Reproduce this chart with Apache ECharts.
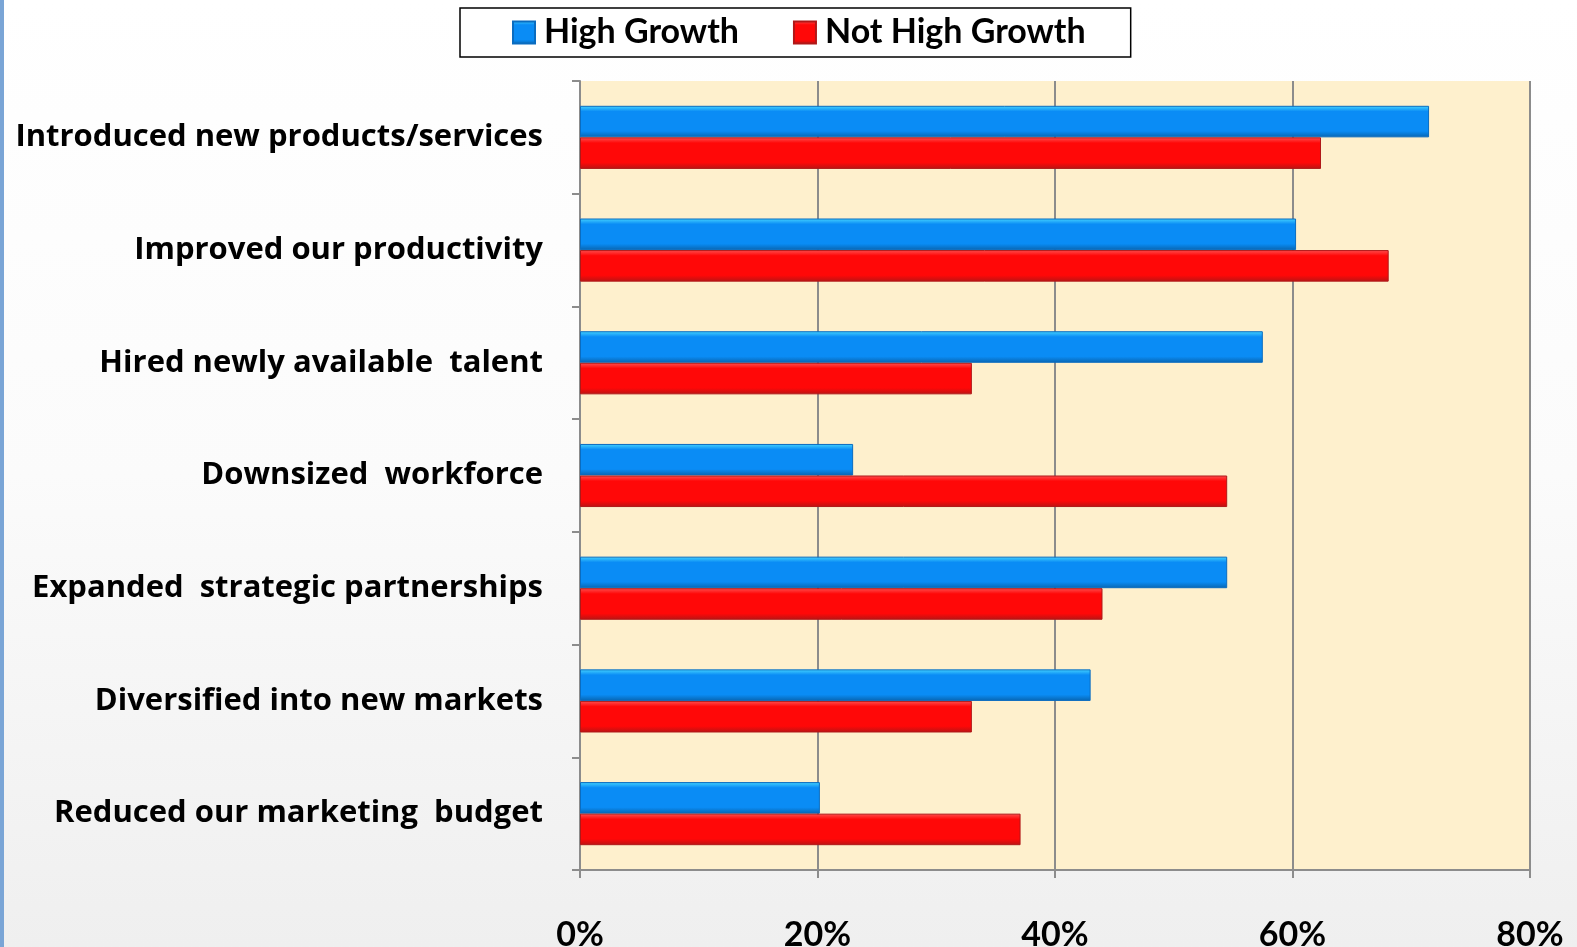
<!DOCTYPE html>
<html>
<head>
<meta charset="utf-8">
<script src="https://cdn.jsdelivr.net/npm/echarts@6/dist/echarts.min.js"></script>
<style>
  html, body { margin: 0; padding: 0; }
  body {
    width: 1577px;
    height: 947px;
    background: linear-gradient(to bottom, #ffffff 0%, #fbfbfb 50%, #efefef 100%);
    position: relative;
  }
  .edge {
    position: absolute; left: 0; top: 0; width: 4px; height: 947px;
    background: #7aa5d6;
  }
  #chart { position: absolute; left: 0; top: 0; width: 1577px; height: 947px; }
</style>
</head>
<body>
<div class="edge"></div>
<div id="chart"></div>
<script>
// categories top to bottom
const categories = [
  'Introduced new products/services',
  'Improved our productivity',
  'Hired newly available  talent',
  'Downsized  workforce',
  'Expanded  strategic partnerships',
  'Diversified into new markets',
  'Reduced our marketing  budget'
]
const highGrowth    = [71.5, 60.3, 57.5, 23.0, 54.5, 43.0, 20.2]
const notHighGrowth = [62.4, 68.1, 33.0, 54.5, 44.0, 33.0, 37.1]
const xTicks = [0, 20, 40, 60, 80]

const font = 'Lato, "Open Sans", sans-serif'
const labelFont = '"Open Sans", Lato, sans-serif'

function barColor(light, main, dark) {
  return new echarts.graphic.LinearGradient(0, 0, 0, 1, [
    { offset: 0, color: light },
    { offset: 0.18, color: main },
    { offset: 0.8, color: main },
    { offset: 1, color: dark }
  ])
}

const blue = barColor('#45d4ff', '#0a8cf5', '#0865b0')
const red = barColor('#ff5050', '#ff0808', '#b81414')

const option = {
  animation: false,
  legend: {
    data: ['High Growth', 'Not High Growth'],
    left: 460,
    top: 8,
    padding: [6, 45, 6, 52],
    itemGap: 54,
    itemWidth: 22,
    itemHeight: 22,
    icon: 'rect',
    backgroundColor: '#ffffff',
    borderColor: '#000000',
    borderWidth: 1.5,
    textStyle: { fontFamily: font, fontWeight: 'bold', fontSize: 34, lineHeight: 37, color: '#000', padding: [0, 0, 0, 4] }
  },
  grid: {
    left: 580,
    right: 47,
    top: 81,
    bottom: 77,
    containLabel: false,
    outerBoundsMode: 'none',
    show: true,
    backgroundColor: '#fef0cd',
    borderWidth: 0
  },
  xAxis: {
    type: 'value',
    min: xTicks[0],
    max: xTicks[xTicks.length - 1],
    interval: 20,
    axisLine: { show: true, lineStyle: { color: '#8c8c8c', width: 2 } },
    axisTick: { show: true, length: 8, lineStyle: { color: '#8c8c8c', width: 2 } },
    splitLine: { show: true, lineStyle: { color: '#8c8c8c', width: 2 } },
    axisLabel: {
      formatter: '{value}%',
      margin: 48,
      fontFamily: font,
      fontWeight: 'bold',
      fontSize: 34,
      color: '#000'
    }
  },
  yAxis: {
    type: 'category',
    data: categories,
    inverse: true,
    axisLine: { show: true, lineStyle: { color: '#8c8c8c', width: 2 } },
    axisTick: { show: true, length: 8, lineStyle: { color: '#8c8c8c', width: 2 } },
    axisLabel: {
      margin: 37,
      fontFamily: labelFont,
      fontWeight: 'bold',
      fontSize: 31,
      padding: [8, 0, 0, 0],
      color: '#000'
    }
  },
  series: [
    {
      name: 'High Growth',
      type: 'bar',
      data: highGrowth,
      barGap: '0%',
      barCategoryGap: '44%',
      itemStyle: { color: blue, borderColor: '#0a6cc0', borderWidth: 1 }
    },
    {
      name: 'Not High Growth',
      type: 'bar',
      data: notHighGrowth,
      itemStyle: { color: red, borderColor: '#b01818', borderWidth: 1 }
    }
  ]
}

const chart = echarts.init(document.getElementById('chart'))
chart.setOption(option)
</script>
</body>
</html>
